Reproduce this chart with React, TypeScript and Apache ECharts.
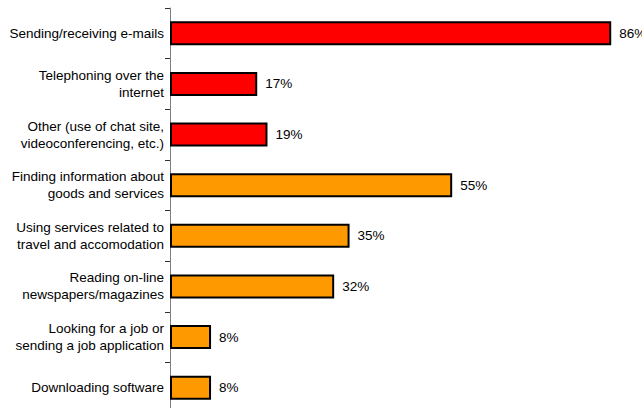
import React, { useEffect, useRef } from "react";
import * as echarts from "echarts";

const categories = [
  "Sending/receiving e-mails",
  "Telephoning over the\ninternet",
  "Other (use of chat site,\nvideoconferencing, etc.)",
  "Finding information about\ngoods and services",
  "Using services related to\ntravel and accomodation",
  "Reading on-line\nnewspapers/magazines",
  "Looking for a job or\nsending a job application",
  "Downloading software",
];
const values = [86, 17, 19, 55, 35, 32, 8, 8];
const groups = ["comm", "comm", "comm", "info", "info", "info", "info", "info"];
const groupColors: Record<string, string> = { comm: "#FF0000", info: "#FF9900" };

export default function App() {
  const ref = useRef<HTMLDivElement>(null);
  useEffect(() => {
    if (!ref.current) return;
    const chart = echarts.init(ref.current, null, { renderer: "svg" });
    chart.setOption({
      animation: false,
      backgroundColor: "#ffffff",
      textStyle: { fontFamily: "Liberation Sans, Arial, sans-serif" },
      grid: { left: 170, top: 8, right: 0, height: 405, containLabel: false },
      xAxis: {
        type: "value",
        min: 0,
        max: 92,
        show: false,
        splitLine: { show: false },
      },
      yAxis: {
        type: "category",
        data: categories,
        inverse: true,
        axisLine: { show: true, lineStyle: { color: "#808080", width: 1 } },
        axisTick: { show: true, length: 5, lineStyle: { color: "#333333", width: 1 } },
        axisLabel: {
          color: "#000000",
          fontSize: 13.5,
          lineHeight: 17,
          margin: 6,
          align: "right",
          fontFamily: "Liberation Sans, Arial, sans-serif",
        },
        splitLine: { show: false },
      },
      series: [
        {
          type: "bar",
          barWidth: 24,
          data: values.map((v, i) => ({
            value: v,
            itemStyle: { color: groupColors[groups[i]] },
          })),
          itemStyle: { borderColor: "#000000", borderWidth: 2 },
          label: {
            show: true,
            position: "right",
            distance: 8,
            formatter: (p: any) => `${p.value}%`,
            color: "#000000",
            fontSize: 13.5,
            fontFamily: "Liberation Sans, Arial, sans-serif",
          },
        },
      ],
    });
    return () => chart.dispose();
  }, []);
  return (
    <div
      ref={ref}
      style={{ position: "fixed", left: 0, top: 0, width: 642, height: 420 }}
    />
  );
}
